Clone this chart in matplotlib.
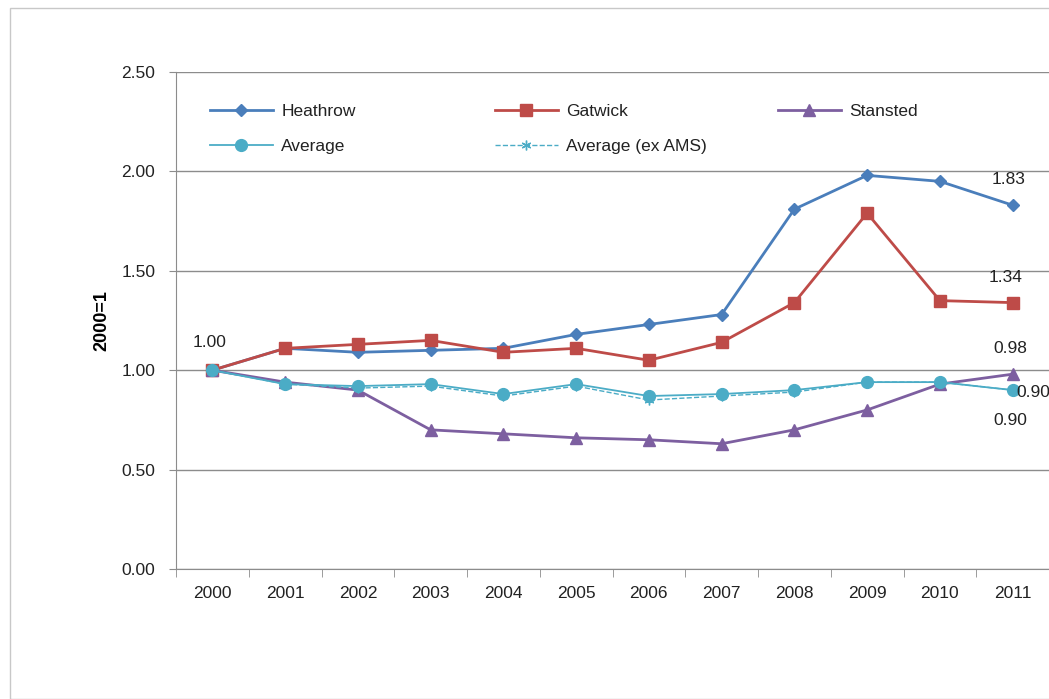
import numpy as np
import matplotlib
matplotlib.use('Agg')
import matplotlib.pyplot as plt
from matplotlib.patches import Rectangle

plt.rcParams['font.family'] = ['Liberation Sans', 'DejaVu Sans']

years = ['2000', '2001', '2002', '2003', '2004', '2005',
         '2006', '2007', '2008', '2009', '2010', '2011']
heathrow = [1.00, 1.11, 1.09, 1.10, 1.11, 1.18, 1.23, 1.28, 1.81, 1.98, 1.95, 1.83]
gatwick = [1.00, 1.11, 1.13, 1.15, 1.09, 1.11, 1.05, 1.14, 1.34, 1.79, 1.35, 1.34]
stansted = [1.00, 0.94, 0.90, 0.70, 0.68, 0.66, 0.65, 0.63, 0.70, 0.80, 0.93, 0.98]
average = [1.00, 0.93, 0.92, 0.93, 0.88, 0.93, 0.87, 0.88, 0.90, 0.94, 0.94, 0.90]
average_ex = [1.00, 0.93, 0.91, 0.92, 0.87, 0.92, 0.85, 0.87, 0.89, 0.94, 0.94, 0.90]

W, H = 1049, 699
fig = plt.figure(figsize=(W / 100, H / 100), dpi=100)
fig.patches.append(Rectangle((10 / W, 0), 1, 1 - 8 / H, transform=fig.transFigure,
                             fill=False, edgecolor='#c8c8c8', lw=1))
ax = fig.add_axes([176 / W, 1 - 569 / H, 1 - 176 / W, (569 - 72) / H])

x = np.arange(len(years))
h1, = ax.plot(x, heathrow, color='#4a7ebb', lw=2, marker='D', ms=6, label='Heathrow')
h2, = ax.plot(x, gatwick, color='#be4b48', lw=2, marker='s', ms=9, label='Gatwick')
h3, = ax.plot(x, stansted, color='#7d5fa0', lw=2, marker='^', ms=8.5, label='Stansted')
h4, = ax.plot(x, average, color='#4bacc6', lw=1.3, marker='o', ms=8.5, label='Average')
h5, = ax.plot(x, average_ex, color='#4bacc6', lw=1, ls='--', marker=(6, 2, 0), ms=7,
              mew=1, label='Average (ex AMS)')

ax.set_xlim(-0.5, len(years) - 0.5)
ax.set_ylim(0, 2.5)
ax.set_yticks(np.arange(0, 2.51, 0.5))
ax.set_yticklabels(['%.2f' % v for v in np.arange(0, 2.51, 0.5)])
ax.set_xticks(x)
ax.set_xticklabels(years)
ax.set_xticks(np.arange(-0.5, len(years), 1), minor=True)
ax.tick_params(axis='x', which='major', length=0, pad=12, labelsize=12.5, labelcolor='#222222')
ax.tick_params(axis='x', which='minor', length=6, color='#8c8c8c')
ax.tick_params(axis='y', length=5, color='#8c8c8c', pad=10, labelsize=12.5, labelcolor='#222222')
ax.yaxis.grid(True, color='#8c8c8c', lw=1)
ax.set_axisbelow(True)
for s in ['top', 'right']:
    ax.spines[s].set_visible(False)
for s in ['left', 'bottom']:
    ax.spines[s].set_color('#8c8c8c')
ax.set_ylabel('2000=1', fontsize=13, fontweight='bold')
ax.yaxis.set_label_coords(-66 / 873, 0.5)

# data labels
lab = dict(fontsize=12.5, color='#222222')
ax.annotate('1.00', (0, 1.00), xytext=(-2, 17),
            textcoords='offset points', ha='center', **lab)
ax.annotate('%.2f' % heathrow[-1], (11, heathrow[-1]), xytext=(-3, 15),
            textcoords='offset points', ha='center', **lab)
ax.annotate('%.2f' % gatwick[-1], (11, gatwick[-1]), xytext=(-5, 15),
            textcoords='offset points', ha='center', **lab)
ax.annotate('%.2f' % stansted[-1], (11, stansted[-1]), xytext=(-2, 15),
            textcoords='offset points', ha='center', **lab)
ax.annotate('%.2f' % average[-1], (11, average[-1]), xytext=(3, -5),
            textcoords='offset points', ha='left', **lab)
ax.annotate('%.2f' % average_ex[-1], (11, average_ex[-1]), xytext=(-2, -25),
            textcoords='offset points', ha='center', **lab)

# legend: three equal-width columns, like Excel
cols = [([h1, h4], 210), ([h2, h5], 495), ([h3], 778)]
legs = []
for hs, px in cols:
    leg = ax.legend(handles=hs, loc='upper left',
                    bbox_to_anchor=((px - 176) / 873, (569 - 104) / 497),
                    frameon=False, fontsize=12.5, handlelength=3.6,
                    handletextpad=0.5, labelspacing=1.15, borderaxespad=0,
                    borderpad=0)
    for t in leg.get_texts():
        t.set_color('#222222')
    legs.append(leg)
for leg in legs[:-1]:
    ax.add_artist(leg)

fig.savefig('out.png', dpi=100)
